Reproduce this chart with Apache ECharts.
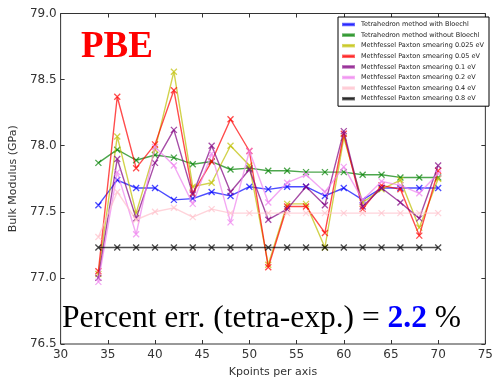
<!DOCTYPE html>
<html>
<head>
<meta charset="utf-8">
<script src="https://cdn.jsdelivr.net/npm/echarts@6/dist/echarts.min.js"></script>
<style>
  html, body { margin: 0; padding: 0; background: #fff; }
  #chart { width: 496px; height: 383px; }
</style>
</head>
<body>
<div id="chart"></div>
<script>
// k-point mesh sizes (points per axis)
const kpoints = [34, 36, 38, 40, 42, 44, 46, 48, 50, 52, 54, 56, 58, 60, 62, 64, 66, 68, 70];

// Bulk modulus (GPa) for each integration scheme
const tetraBloechl   = [77.55, 77.74, 77.68, 77.68, 77.59, 77.60, 77.65, 77.62, 77.69, 77.67, 77.69, 77.69, 77.62, 77.68, 77.59, 77.68, 77.68, 77.68, 77.68];
const tetraNoBloechl = [77.87, 77.97, 77.89, 77.93, 77.91, 77.86, 77.88, 77.82, 77.83, 77.81, 77.81, 77.80, 77.80, 77.80, 77.78, 77.78, 77.76, 77.76, 77.76];
const mp0025 = [77.03, 78.07, 77.49, 77.97, 78.56, 77.69, 77.72, 78.00, 77.85, 77.10, 77.56, 77.56, 77.23, 78.06, 77.57, 77.67, 77.74, 77.38, 77.75];
const mp005  = [77.05, 78.37, 77.83, 78.01, 78.42, 77.64, 77.88, 78.20, 77.96, 77.08, 77.54, 77.54, 77.34, 78.09, 77.52, 77.70, 77.67, 77.32, 77.81];
const mp01   = [77.00, 77.90, 77.45, 77.87, 78.12, 77.63, 78.00, 77.65, 77.82, 77.44, 77.52, 77.69, 77.55, 78.11, 77.54, 77.68, 77.57, 77.45, 77.85];
const mp02   = [76.97, 77.80, 77.33, 77.99, 77.85, 77.56, 77.94, 77.42, 77.96, 77.57, 77.72, 77.78, 77.65, 77.84, 77.59, 77.73, 77.70, 77.64, 77.79];
const mp04   = [77.31, 77.65, 77.44, 77.50, 77.53, 77.46, 77.52, 77.49, 77.49, 77.49, 77.49, 77.49, 77.49, 77.49, 77.49, 77.49, 77.49, 77.49, 77.49];
const mp08   = [77.23, 77.23, 77.23, 77.23, 77.23, 77.23, 77.23, 77.23, 77.23, 77.23, 77.23, 77.23, 77.23, 77.23, 77.23, 77.23, 77.23, 77.23, 77.23];

const seriesNames = [
  'Tetrahedron method with Bloechl',
  'Tetrahedron method without Bloechl',
  'Methfessel Paxton smearing 0.025 eV',
  'Methfessel Paxton smearing 0.05 eV',
  'Methfessel Paxton smearing 0.1 eV',
  'Methfessel Paxton smearing 0.2 eV',
  'Methfessel Paxton smearing 0.4 eV',
  'Methfessel Paxton smearing 0.8 eV'
];
const seriesValues = [tetraBloechl, tetraNoBloechl, mp0025, mp005, mp01, mp02, mp04, mp08];
const seriesColors = ['#0000ff', '#008000', '#bfbf00', '#ff0000', '#800080', '#ee82ee', '#ffc0cb', '#000000'];

// Axis ranges and tick spacing
const xMin = 30, xMax = 75, xStep = 5;
const yMin = 76.5, yMax = 79.0, yStep = 0.5;

const crossMarker = 'path://M0,0L10,10M10,0L0,10';

const series = seriesNames.map((name, i) => ({
  name: name,
  type: 'line',
  data: kpoints.map((k, j) => [k, seriesValues[i][j]]),
  symbol: crossMarker,
  symbolSize: 6,
  showSymbol: true,
  lineStyle: { color: seriesColors[i], width: 1.4, opacity: 0.7 },
  itemStyle: { color: seriesColors[i], borderColor: seriesColors[i], borderWidth: 1.3, opacity: 0.7 },
  emphasis: { disabled: true },
  animation: false,
  z: 2 + i
}));

const tickFont = { fontFamily: 'DejaVu Sans', fontSize: 12, color: '#333' };

const chart = echarts.init(document.getElementById('chart'), null, { renderer: 'canvas' });
chart.setOption({
  animation: false,
  backgroundColor: '#fff',
  grid: {
    left: 55, right: 4.5, top: 13.5, bottom: 32.5,
    show: true, borderColor: '#333', borderWidth: 1, backgroundColor: 'transparent'
  },
  legend: {
    data: seriesNames,
    orient: 'vertical',
    right: 7, top: 17,
    itemWidth: 11, itemHeight: 1.5,
    itemGap: 3.6,
    icon: 'rect',
    padding: [4, 5, 4, 4],
    borderColor: '#000', borderWidth: 1,
    backgroundColor: '#fff',
    textStyle: { fontFamily: 'DejaVu Sans', fontSize: 6.5, color: '#222', padding: [0, 0, 0, 2] },
    itemStyle: { opacity: 0.6 },
    selectedMode: false
  },
  xAxis: [{
    type: 'value', min: xMin, max: xMax, interval: xStep, position: 'bottom',
    name: 'Kpoints per axis', nameLocation: 'middle', nameGap: 23,
    nameTextStyle: { fontFamily: 'DejaVu Sans', fontSize: 11, color: '#333' },
    axisLine: { show: false },
    axisTick: { show: true, inside: true, length: 4, lineStyle: { color: '#333' } },
    axisLabel: Object.assign({ margin: 5 }, tickFont),
    splitLine: { show: false }
  }, {
    type: 'value', min: xMin, max: xMax, interval: xStep, position: 'top',
    axisLine: { show: false },
    axisTick: { show: true, inside: true, length: 4, lineStyle: { color: '#333' } },
    axisLabel: { show: false },
    splitLine: { show: false }
  }],
  yAxis: [{
    type: 'value', min: yMin, max: yMax, interval: yStep, position: 'left',
    name: 'Bulk Modulus (GPa)', nameLocation: 'middle', nameGap: 36,
    nameTextStyle: { fontFamily: 'DejaVu Sans', fontSize: 11, color: '#333' },
    axisLine: { show: false },
    axisTick: { show: true, inside: true, length: 4, lineStyle: { color: '#333' } },
    axisLabel: Object.assign({ margin: 4, formatter: v => v.toFixed(1) }, tickFont),
    splitLine: { show: false }
  }, {
    type: 'value', min: yMin, max: yMax, interval: yStep, position: 'right',
    axisLine: { show: false },
    axisTick: { show: true, inside: true, length: 4, lineStyle: { color: '#333' } },
    axisLabel: { show: false },
    splitLine: { show: false }
  }],
  graphic: [{
    type: 'text', left: 81, top: 29,
    style: { text: 'PBE', fill: '#ff0000', font: 'bold 37px "Liberation Serif"' },
    z: 100
  }, {
    type: 'text', left: 62, top: 303,
    style: {
      text: '{n|Percent err. (tetra-exp.) = }{v|2.2}{n| %}',
      rich: {
        n: { fill: '#000', font: '31.5px "Liberation Serif"' },
        v: { fill: '#0000ff', font: 'bold 31.5px "Liberation Serif"' }
      }
    },
    z: 100
  }],
  series: series
});
</script>
</body>
</html>
